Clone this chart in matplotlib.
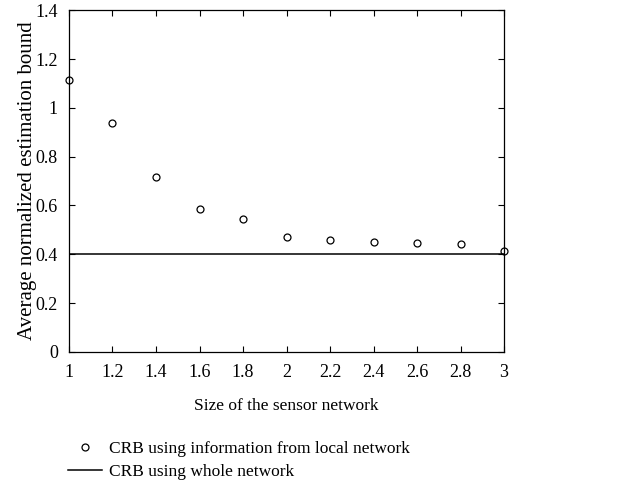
import matplotlib.pyplot as plt

plt.rcParams['font.family'] = ['Liberation Serif', 'DejaVu Serif']

sizes = [1.0, 1.2, 1.4, 1.6, 1.8, 2.0, 2.2, 2.4, 2.6, 2.8, 3.0]
crb_local = [1.115, 0.937, 0.715, 0.587, 0.545, 0.472, 0.458, 0.450, 0.446, 0.444, 0.415]
crb_whole = 0.4

fig = plt.figure(figsize=(6.27, 4.86), dpi=100)
ax = fig.add_axes([0.110, 0.276, 0.694, 0.703])

ax.plot(sizes, crb_local, 'o', mfc='none', mec='black', ms=5, mew=0.9,
        label='CRB using information from local network', clip_on=False, zorder=3)
ax.axhline(crb_whole, color='black', lw=1.1, label='CRB using whole network')

ax.set_xlim(1, 3)
ax.set_ylim(0, 1.4)
ax.set_xticks([1, 1.2, 1.4, 1.6, 1.8, 2, 2.2, 2.4, 2.6, 2.8, 3])
ax.set_xticklabels(['1', '1.2', '1.4', '1.6', '1.8', '2', '2.2', '2.4', '2.6', '2.8', '3'])
ax.set_yticks([0, 0.2, 0.4, 0.6, 0.8, 1, 1.2, 1.4])
ax.set_yticklabels(['0', '0.2', '0.4', '0.6', '0.8', '1', '1.2', '1.4'])
ax.tick_params(direction='in', top=True, right=True, labelsize=13, length=4, width=0.8)
ax.tick_params(axis='x', pad=9)
ax.tick_params(axis='y', pad=8)
for s in ax.spines.values():
    s.set_linewidth(0.9)

ax.set_xlabel('Size of the sensor network', fontsize=12.5, labelpad=12)
ax.set_ylabel('Average normalized estimation bound', fontsize=15, labelpad=-1)

fig.legend(loc='upper left', bbox_to_anchor=(0.108, 0.092), frameon=False,
           fontsize=12.5, handlelength=2.0, handletextpad=0.4, labelspacing=0.35,
           borderaxespad=0, borderpad=0)

plt.savefig('out.png', dpi=100)
